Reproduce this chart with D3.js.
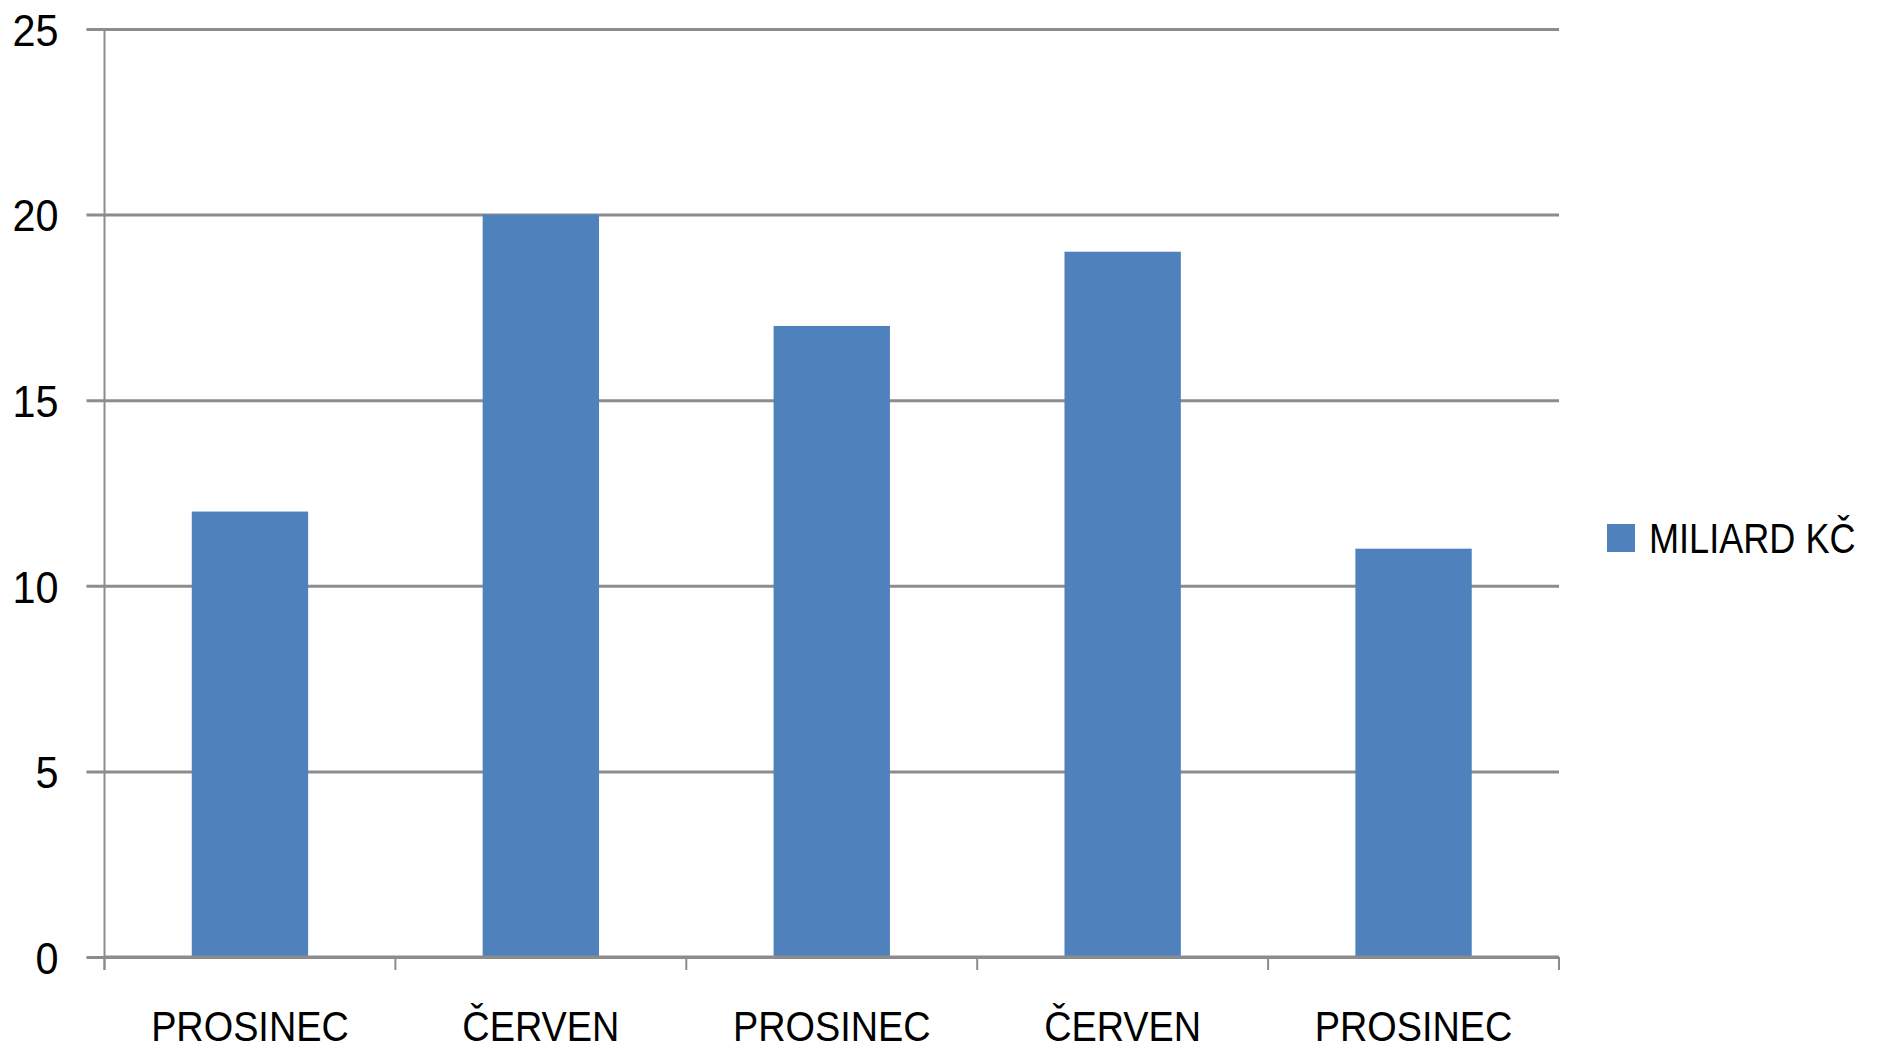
<!DOCTYPE html>
<html>
<head>
<meta charset="utf-8">
<script src="https://cdn.jsdelivr.net/npm/d3@7"></script>
<style>
  body { margin: 0; background: #fff; }
  text { font-family: "Liberation Sans", Arial, sans-serif; fill: #000; }
</style>
</head>
<body>
<script>
"use strict";

var categories = ['PROSINEC', 'ČERVEN', 'PROSINEC', 'ČERVEN', 'PROSINEC'];
var values = [12, 20, 17, 19, 11];
var yTicks = [0, 5, 10, 15, 20, 25];
var seriesName = 'MILIARD KČ';

var barColor = '#4f81bd';
var gridColor = '#8c8c8c';

var W = 1883, H = 1052;
var mLeft = 104.5, mRight = 1559, mTop = 29, mBottom = 957;
var w = mRight - mLeft, h = mBottom - mTop;

// squeeze text horizontally around its anchor, the source font is a narrow one
function squeeze(sel, k) {
  sel.each(function() {
    var x0 = +d3.select(this).attr('x') || 0;
    d3.select(this)
      .attr('transform', 'translate(' + x0 + ',0) scale(' + k + ',1) translate(' + (-x0) + ',0)');
  });
}

var svg = d3.select('body').append('svg')
  .attr('width', W)
  .attr('height', H);

var x = d3.scaleBand()
  .domain(d3.range(categories.length))
  .range([0, w])
  .paddingInner(0.6)
  .paddingOuter(0.3);

var y = d3.scaleLinear()
  .domain([0, 25])
  .range([h, 0]);

var g = svg.append('g').attr('transform', 'translate(' + mLeft + ',' + mTop + ')');

// gridlines + y labels
var yAxis = g.append('g')
  .call(d3.axisLeft(y).tickValues(yTicks).tickSize(-w).tickSizeOuter(0).tickPadding(46));
yAxis.select('.domain').remove();
yAxis.selectAll('.tick line')
  .attr('x1', -18)
  .attr('x2', w)
  .attr('stroke', gridColor)
  .attr('stroke-width', 3);
yAxis.selectAll('.tick text')
  .attr('font-size', 45)
  .attr('dy', '0.36em')
  .style('font-family', '"Liberation Sans", Arial, sans-serif')
  .call(squeeze, 0.92);

// left axis line
g.append('line')
  .attr('x1', 0).attr('x2', 0)
  .attr('y1', 0).attr('y2', h + 13)
  .attr('stroke', gridColor)
  .attr('stroke-width', 2);

// bars
g.selectAll('rect.bar')
  .data(values)
  .enter().append('rect')
  .attr('class', 'bar')
  .attr('x', function(d, i) { return x(i); })
  .attr('y', function(d) { return y(d); })
  .attr('width', x.bandwidth())
  .attr('height', function(d) { return y(0) - y(d); })
  .attr('fill', barColor);

// x axis line over bars
g.append('line')
  .attr('x1', 0).attr('x2', w)
  .attr('y1', h).attr('y2', h)
  .attr('stroke', gridColor)
  .attr('stroke-width', 3);

// category ticks at band boundaries
var slot = w / categories.length;
g.selectAll('line.xtick')
  .data(d3.range(categories.length + 1))
  .enter().append('line')
  .attr('class', 'xtick')
  .attr('x1', function(d) { return d * slot; })
  .attr('x2', function(d) { return d * slot; })
  .attr('y1', h)
  .attr('y2', h + 13)
  .attr('stroke', gridColor)
  .attr('stroke-width', 2);

// category labels
var xAxis = g.append('g')
  .attr('transform', 'translate(0,' + h + ')')
  .call(d3.axisBottom(x).tickSize(0).tickPadding(0).tickFormat(function(i) { return categories[i]; }));
xAxis.select('.domain').remove();
xAxis.selectAll('.tick text')
  .attr('font-size', 43)
  .attr('y', 84)
  .attr('dy', 0)
  .style('font-family', '"Liberation Sans", Arial, sans-serif')
  .call(squeeze, 0.88);

// legend
var legend = svg.append('g').attr('transform', 'translate(1607,524)');
legend.append('rect')
  .attr('width', 28)
  .attr('height', 28)
  .attr('fill', barColor);
legend.append('text')
  .attr('x', 42)
  .attr('y', 29)
  .attr('font-size', 43)
  .text(seriesName)
  .call(squeeze, 0.84);
</script>
</body>
</html>
